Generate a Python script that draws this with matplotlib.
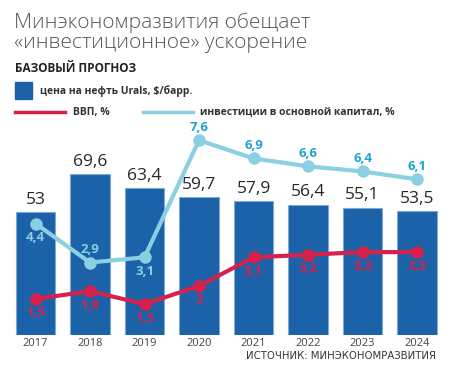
import matplotlib
matplotlib.use("Agg")
import matplotlib.pyplot as plt

years = ["2017", "2018", "2019", "2020", "2021", "2022", "2023", "2024"]
oil = [53, 69.6, 63.4, 59.7, 57.9, 56.4, 55.1, 53.5]
gdp = [1.5, 1.8, 1.3, 2, 3.1, 3.2, 3.3, 3.3]
inv = [4.4, 2.9, 3.1, 7.6, 6.9, 6.6, 6.4, 6.1]

title = "Минэкономразвития обещает\n«инвестиционное» ускорение"
subtitle = "БАЗОВЫЙ ПРОГНОЗ"
leg_oil = "цена на нефть Urals, $/барр."
leg_gdp = "ВВП, %"
leg_inv = "инвестиции в основной капитал, %"
source = "ИСТОЧНИК: МИНЭКОНОМРАЗВИТИЯ"

BAR = "#1b62a9"
BAR_EDGE = "#7fa9d6"
RED = "#d7204b"
LBLUE = "#8bcfe2"
CYAN = "#1aa5d1"
DARK = "#262626"
GREY = "#444444"

def fmt(v):
    return ("%g" % v).replace(".", ",")

plt.rcParams['font.family'] = ['Open Sans', 'DejaVu Sans']

fig = plt.figure(figsize=(4.5, 3.8), dpi=100)
ax = fig.add_axes([8.25/450, 45/380, 436/450, 215/380])
ax2 = ax.twinx()

x = list(range(len(years)))
ax.bar(x, oil, width=0.716, color=BAR, edgecolor=BAR_EDGE, linewidth=0.8, zorder=1)
ax.set_xlim(-0.5, 7.5)
ax.set_ylim(0, 93)
scale = 26/2.31
ax2.set_ylim(0.115, 0.115 + 93/scale)

for a in (ax, ax2):
    for s in a.spines.values():
        s.set_visible(False)
    a.set_yticks([])
ax.set_xticks(x)
ax.set_xticklabels(years, fontsize=8, color=GREY)
ax.tick_params(axis='x', length=0, pad=2)

for xi, v in zip(x, oil):
    ax.annotate(fmt(v), (xi, v), xytext=(0, 3), textcoords='offset points',
                ha='center', va='bottom', fontsize=12.5, color=DARK)

ax2.plot(x, inv, color=LBLUE, lw=3, marker='o', ms=8, zorder=3, solid_capstyle='round')
ax2.plot(x, gdp, color=RED, lw=3, marker='o', ms=8, zorder=3)

below_inv = {0, 2}
for xi, v in zip(x, inv):
    dy = -10 if xi in below_inv else 9.5
    ypix_val = (v - 0.115) * scale + dy * 100/72 / 2.31
    col = LBLUE if ypix_val < oil[xi] else CYAN
    ax2.annotate(fmt(v), (xi, v), xytext=(0, dy), textcoords='offset points',
                 ha='center', va='center', fontsize=9.5, fontweight='bold', color=col)

for xi, v in zip(x, gdp):
    ax2.annotate(fmt(v), (xi, v), xytext=(0, -10), textcoords='offset points',
                 ha='center', va='center', fontsize=9.5, fontweight='bold', color=RED)

fig.text(14/450, 1 - 13/380, title, ha='left', va='top', fontsize=15,
         fontweight='light', color="#555555", linespacing=0.98)
fig.text(15/450, 1 - 68/380, subtitle, ha='left', va='center', fontsize=8.5,
         fontweight='bold', color="#222222")

fig.patches.append(plt.Rectangle((15/450, 1 - 99/380), 17/450, 17/380,
                                 transform=fig.transFigure, color=BAR, figure=fig))
fig.text(40/450, 1 - 91/380, leg_oil, ha='left', va='center', fontsize=7.5,
         fontweight='bold', color="#333333")
fig.lines.append(plt.Line2D([15/450, 65/450], [1 - 112/380]*2, transform=fig.transFigure,
                            color=RED, lw=2.5, figure=fig))
fig.text(73/450, 1 - 112/380, leg_gdp, ha='left', va='center', fontsize=7.5,
         fontweight='bold', color="#333333")
fig.lines.append(plt.Line2D([143/450, 193/450], [1 - 112/380]*2, transform=fig.transFigure,
                            color=LBLUE, lw=2.5, figure=fig))
fig.text(200/450, 1 - 112/380, leg_inv, ha='left', va='center', fontsize=7.5,
         fontweight='bold', color="#333333")

fig.text(436/450, 1 - 356/380, source, ha='right', va='center', fontsize=7.3,
         color="#333333", family=['DejaVu Sans'])

fig.savefig("out.png", dpi=100)
